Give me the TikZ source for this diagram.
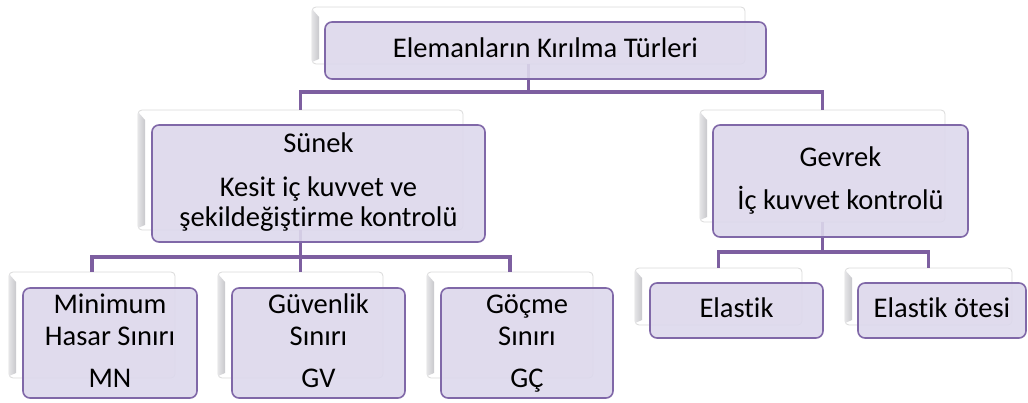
\documentclass[tikz,border=0pt]{standalone}
\usepackage{fontspec}
\setmainfont[Ligatures={NoCommon}]{Carlito}
\definecolor{boxfill}{RGB}{221,216,236}
\definecolor{boxline}{RGB}{128,104,168}
\definecolor{conncol}{RGB}{125,95,160}
\definecolor{cardline}{RGB}{218,218,218}
\definecolor{cardsideA}{RGB}{228,228,230}
\definecolor{cardsideB}{RGB}{200,200,204}
\tikzset{
 card/.style={draw=cardline, fill=white, line width=0.8pt, rounded corners=4pt, inner sep=0pt, outer sep=0pt},
 front/.style={draw=boxline, fill=boxfill, fill opacity=0.9, line width=1.6pt, rounded corners=7pt, inner sep=0pt, outer sep=0pt},
 conn/.style={draw=conncol, line width=3.5pt},
 lbl/.style={anchor=base, font=\fontsize{28.5}{32}\selectfont, inner sep=0pt, text=black},
}
\newcommand\cardbevel[1]{%
  \shade[left color=cardsideA, right color=cardsideB] ([yshift=-2pt]#1.north west) -- ([xshift=7pt,yshift=-10pt]#1.north west)
    -- ([xshift=7pt,yshift=5pt]#1.south west) -- ([yshift=2pt]#1.south west) -- cycle;}
\begin{document}
\begin{tikzpicture}[x=1pt,y=-1pt]
\useasboundingbox (0,0) rectangle (1028,403);
% back cards
\node[card, minimum width=433pt, minimum height=57pt] (topback) at (528.5,35.5) {};
\node[card, minimum width=325pt, minimum height=120pt] (sback) at (300.5,170) {};
\node[card, minimum width=245pt, minimum height=112pt] (gback) at (822.5,166) {};
\node[card, minimum width=166pt, minimum height=106pt] (mnback) at (92,325) {};
\node[card, minimum width=165pt, minimum height=106pt] (gvback) at (300.5,325) {};
\node[card, minimum width=166pt, minimum height=106pt] (gcback) at (510,325) {};
\node[card, minimum width=167pt, minimum height=57pt] (eback) at (718.5,296.5) {};
\node[card, minimum width=167pt, minimum height=57pt] (oback) at (928.5,296.5) {};
\cardbevel{topback}\cardbevel{sback}\cardbevel{gback}\cardbevel{mnback}
\cardbevel{gvback}\cardbevel{gcback}\cardbevel{eback}\cardbevel{oback}
% connectors
\coordinate (j1) at (528.5,92);
\coordinate (j2) at (300.5,257);
\coordinate (j3) at (822.5,252);
\draw[conn] (topback.south) -- (j1);
\draw[conn] (sback.north) |- (j1) -| (gback.north);
\draw[conn] (sback.south) -- (j2);
\draw[conn] (mnback.north) |- (j2) -| (gcback.north);
\draw[conn] (j2) -- (gvback.north);
\draw[conn] (gback.south) -- (j3);
\draw[conn] (eback.north) |- (j3) -| (oback.north);
% front boxes
\node[front, minimum width=441pt, minimum height=57pt] (top) at (545.5,50.5) {};
\node[front, minimum width=333pt, minimum height=117pt] (sunek) at (318.5,183.5) {};
\node[front, minimum width=255pt, minimum height=112pt] (gevrek) at (840.5,181) {};
\node[front, minimum width=174pt, minimum height=110pt] (mn) at (110,343) {};
\node[front, minimum width=173pt, minimum height=110pt] (gv) at (318.5,343) {};
\node[front, minimum width=172pt, minimum height=110pt] (gc) at (527,343) {};
\node[front, minimum width=173pt, minimum height=55pt] (el) at (736.5,310.5) {};
\node[front, minimum width=168pt, minimum height=55pt] (eo) at (942,310.5) {};
% texts
\node[lbl] (t0) at (545.5,58) {Elemanların Kırılma Türleri};
\node[lbl] (t1a) at (318.5,153) {Sünek};
\node[lbl] (t1b) at (318.5,197) {Kesit iç kuvvet ve};
\node[lbl] (t1c) at (318.5,227) {şekildeğiştirme kontrolü};
\node[lbl] (t2a) at (840.5,167) {Gevrek};
\node[lbl] (t2b) at (840.5,210) {İç kuvvet kontrolü};
\node[lbl] (t3a) at (110,313) {Minimum};
\node[lbl] (t3b) at (110,345) {Hasar Sınırı};
\node[lbl] (t3c) at (110,387) {MN};
\node[lbl] (t4a) at (318.5,313) {Güvenlik};
\node[lbl] (t4b) at (318.5,345) {Sınırı};
\node[lbl] (t4c) at (318.5,387) {GV};
\node[lbl] (t5a) at (527,313) {Göçme};
\node[lbl] (t5b) at (527,345) {Sınırı};
\node[lbl] (t5c) at (527,387) {GÇ};
\node[lbl] (t6) at (736.5,318) {Elastik};
\node[lbl] (t7) at (942,318) {Elastik ötesi};
\end{tikzpicture}
\end{document}
